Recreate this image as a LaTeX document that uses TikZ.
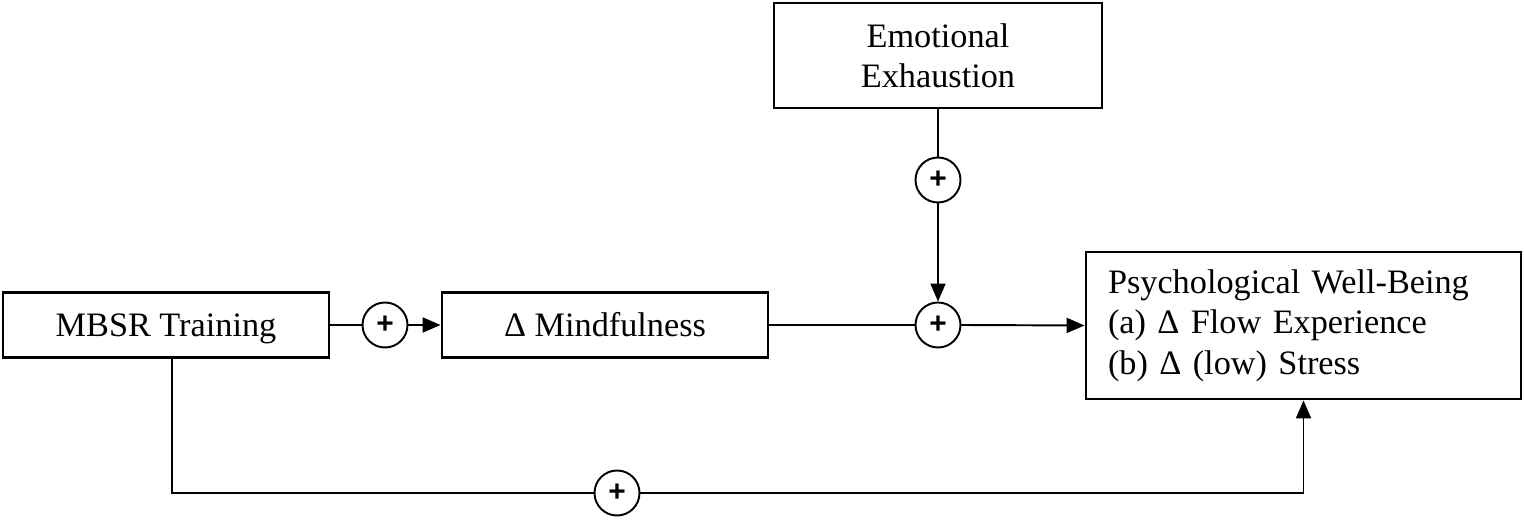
\documentclass[tikz,border=0pt]{standalone}
\usepackage{fontspec}
\setmainfont{Liberation Serif}
\newfontfamily\plusfont{Liberation Sans}
\usepackage{tikz}
\usetikzlibrary{arrows.meta}

\begin{document}
\begin{tikzpicture}[
    box/.style={draw, line width=1.6pt, font=\fontsize{19.5}{23}\selectfont},
    onebox/.style={box, minimum width=6.52cm, minimum height=1.3cm, text height=13pt, text depth=0pt},
    plus/.style={draw, circle, line width=1.1pt, minimum size=0.9cm, inner sep=0pt, font=\plusfont\bfseries\fontsize{17}{17}\selectfont},
    link/.style={line width=1.1pt},
    arr/.style={line width=1.1pt, -{Triangle[length=0.36cm, width=0.3cm]}}
  ]
    % Frame of the picture
    \useasboundingbox (0,0) rectangle (30.48,10.54);

    % Boxes
    \node[onebox] (mbsr) at (3.32,4.04) {MBSR Training};
    \node[onebox] (mind) at (12.1,4.04) {Δ Mindfulness};
    \node[box, minimum width=6.56cm, minimum height=2.1cm, align=center] (emo) at (18.76,9.43) {Emotional\\Exhaustion};
    \node[box, minimum width=8.7cm, minimum height=2.94cm, text width=7.82cm, inner xsep=0.44cm, align=left] (pwb) at (26.07,4.03)
      {Psychological Well-Being\\(a) Δ Flow Experience\\(b) Δ (low) Stress};

    % Plus signs
    \node[plus] (p1) at (7.7,4.04) {+};
    \node[plus] (p2) at (18.76,6.94) {+};
    \node[plus] (p3) at (18.76,4.04) {+};
    \node[plus] (p4) at (12.34,0.68) {+};

    % Main path
    \draw[link] (mbsr.east) -- (p1.west);
    \draw[arr] (p1.east) -- (mind.west);
    \draw[link] (mind.east) -- (p3.west);
    \draw[arr] (p3.east) -- (pwb.west);

    % Moderator
    \draw[link] (emo.south) -- (p2.north);
    \draw[arr] (p2.south) -- (p3.north);

    % Direct path
    \coordinate (start) at ([xshift=0.12cm]mbsr.south);
    \draw[link] (start) |- (p4.west);
    \draw[arr] (p4.east) -| (pwb.south);
\end{tikzpicture}
\end{document}
